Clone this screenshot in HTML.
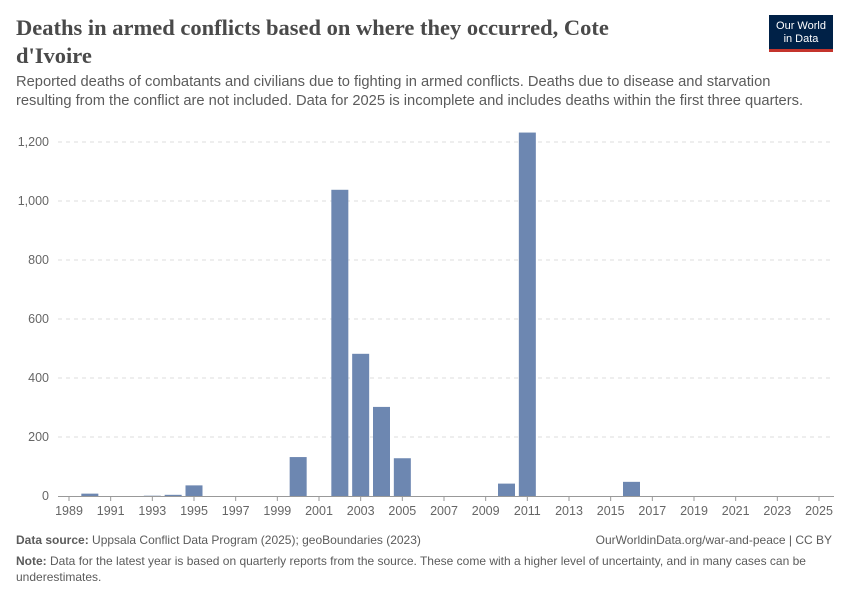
<!DOCTYPE html>
<html><head><meta charset="utf-8"><style>
body{margin:0;background:#fff;font-family:"Liberation Sans",sans-serif;}
#wrap{position:relative;width:850px;height:600px;overflow:hidden;}
.t{position:absolute;margin:0;}
</style></head><body>
<div id="wrap">
<h1 class="t" style="left:16px;top:14px;width:640px;font-family:'Liberation Serif',serif;font-size:22.5px;font-weight:bold;color:#4a4a4a;line-height:28px;">Deaths in armed conflicts based on where they occurred, Cote d'Ivoire</h1>
<div class="t" style="left:769px;top:15px;width:64px;height:37px;background:#002147;border-bottom:3px solid #c4342c;color:#fff;font-size:11px;text-align:center;line-height:13px;padding-top:5px;box-sizing:border-box;">Our World<br>in Data</div>
<p class="t" style="left:16px;top:73px;width:805px;font-size:14.7px;color:#5b5b5b;line-height:19px;">Reported deaths of combatants and civilians due to fighting in armed conflicts. Deaths due to disease and starvation resulting from the conflict are not included. Data for 2025 is incomplete and includes deaths within the first three quarters.</p>
<svg id="chart" width="850" height="600" style="position:absolute;left:0;top:0"></svg>
<div class="t" style="left:16px;top:533px;font-size:12px;color:#5b5b5b;"><b>Data source:</b> Uppsala Conflict Data Program (2025); geoBoundaries (2023)</div>
<div class="t" style="right:18px;top:533px;font-size:12px;color:#5b5b5b;">OurWorldinData.org/war-and-peace | CC BY</div>
<div class="t" style="left:16px;top:553px;width:800px;font-size:12px;color:#5b5b5b;line-height:16px;"><b>Note:</b> Data for the latest year is based on quarterly reports from the source. These come with a higher level of uncertainty, and in many cases can be underestimates.</div>
</div>
<script>
const years=[1990,1993,1994,1995,2000,2002,2003,2004,2005,2010,2011,2016];
const deaths=[8,1,4,36,132,1038,482,302,128,42,1232,48];
const yTicks=[0,200,400,600,800,1000,1200];
const yTickLabels=["0","200","400","600","800","1,000","1,200"];
const xTicks=[1989,1991,1993,1995,1997,1999,2001,2003,2005,2007,2009,2011,2013,2015,2017,2019,2021,2023,2025];
const svg=document.getElementById('chart');const NS="http://www.w3.org/2000/svg";
const x=v=>69+(v-1989)*(750/36);
const y=v=>496-v*(354/1200);
function mk(t,a){const e=document.createElementNS(NS,t);for(const k in a)e.setAttribute(k,a[k]);svg.appendChild(e);return e;}
yTicks.forEach((v,i)=>{
 if(v>0){const l=mk('line',{x1:58,x2:834,y1:y(v),y2:y(v),stroke:'#ddd','stroke-dasharray':'4,4'});
 
 }
 const t=mk('text',{x:49,y:y(v)+4,'text-anchor':'end','font-size':12.5,fill:'#666','font-family':'Liberation Sans, sans-serif'});
 t.textContent=yTickLabels[i];
 
 
});
years.forEach((yr,i)=>{
 const r=mk('rect',{x:x(yr)-8.5,y:y(deaths[i]),width:17,height:496-y(deaths[i]),fill:'#6d87b1'});
 
 
});
const ax=mk('line',{x1:58,x2:834,y1:496.5,y2:496.5,stroke:'#999'});


xTicks.forEach(v=>{
 const tk=mk('line',{x1:x(v),x2:x(v),y1:496,y2:501,stroke:'#999'});
 
 
 const t=mk('text',{x:x(v),y:515,'text-anchor':'middle','font-size':12.5,fill:'#666','font-family':'Liberation Sans, sans-serif'});
 t.textContent=v;
 
 
});
</script>
</body></html>
